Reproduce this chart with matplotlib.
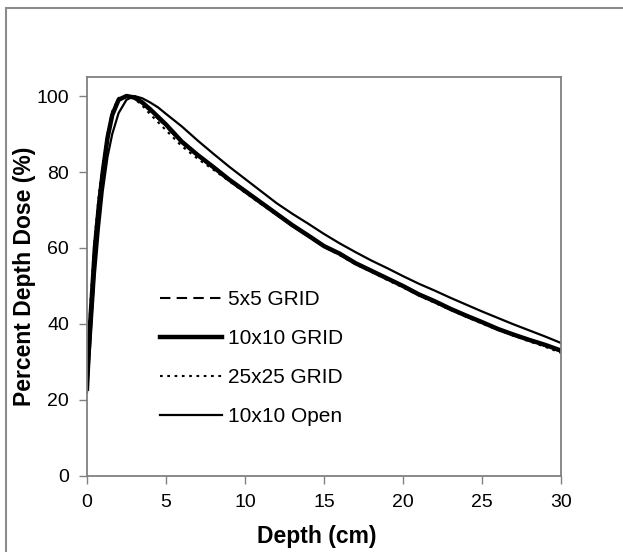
import matplotlib
matplotlib.use('Agg')
import matplotlib.pyplot as plt
from matplotlib.patches import Rectangle

plt.rcParams['font.family'] = ['Liberation Sans', 'DejaVu Sans']

# depth (cm) for grid curves
depth = [0, 0.1, 0.2, 0.35, 0.5, 0.75, 1.0, 1.3, 1.6, 2.0, 2.5, 3.0, 3.5, 4, 5, 6, 7, 8, 9, 10,
         11, 12, 13, 14, 15, 16, 17, 18, 19, 20, 21, 22, 23, 24, 25, 26, 27, 28, 29, 30]
grid5 = [24, 34, 42, 52, 62, 72.5, 81, 89.5, 95.5, 99.2, 100, 99.4, 98, 96, 92, 87.6, 84.2, 81, 77.8, 74.8,
         71.8, 68.8, 65.8, 63, 60.3, 58.2, 55.8, 53.8, 51.8, 49.8, 47.6, 45.7, 43.8, 42, 40.3, 38.6, 37, 35.6, 34.2, 32.7]
grid10 = [23, 32, 40, 50, 60, 71, 80, 89, 95, 99, 100, 99.6, 98.3, 96.5, 92.5, 88, 84.5, 81.3, 78, 75,
          72, 69, 66, 63.3, 60.5, 58.5, 56, 54, 52, 50, 47.8, 46, 44, 42.2, 40.5, 38.7, 37.2, 35.8, 34.5, 33]
grid25 = [25, 35, 44, 54, 63, 74, 82, 90, 96, 99.5, 100, 99.3, 97.5, 95.2, 91, 86.8, 83.5, 80.6, 77.6, 74.6,
          71.6, 68.7, 65.8, 63, 60.3, 58.1, 55.7, 53.7, 51.6, 49.6, 47.5, 45.6, 43.7, 41.9, 40.1, 38.5, 36.9, 35.4, 34, 32.4]

# open field
depth_open = [0, 0.2, 0.5, 0.75, 1.0, 1.3, 1.6, 2.0, 2.5, 3.0, 3.5, 4, 4.5, 5, 6, 7, 8, 9, 10, 11,
              12, 13, 14, 15, 16, 17, 18, 19, 20, 21, 22, 23, 24, 25, 26, 27, 28, 29, 30]
open10 = [22, 34, 53, 65, 75, 84, 90, 95.5, 99, 100, 99.4, 98.3, 97, 95.3, 92, 88.3, 84.8, 81.4, 78.2, 75,
          71.8, 69, 66.4, 63.7, 61.2, 58.9, 56.7, 54.7, 52.6, 50.6, 48.8, 46.9, 45.1, 43.3, 41.6, 39.9, 38.3, 36.7, 35]

fig = plt.figure(figsize=(6.23, 5.52), dpi=100)
ax = fig.add_axes([0.1396, 0.1377, 0.7609, 0.7228])

# outer frame of the original figure
fig.patches.append(Rectangle((6 / 623, -0.1), 1.2, 1 - 8 / 552 + 0.1, transform=fig.transFigure,
                             fill=False, edgecolor='#8c8c8c', linewidth=1.5))

ax.plot(depth, grid5, color='black', lw=1.5, linestyle=(0, (5, 3)), label='5x5 GRID')
ax.plot(depth, grid10, color='black', lw=3.2, label='10x10 GRID')
ax.plot(depth, grid25, color='black', lw=1.5, linestyle=(0, (1.3, 2.2)), label='25x25 GRID')
ax.plot(depth_open, open10, color='black', lw=1.6, label='10x10 Open')

ax.set_xlim(0, 30)
ax.set_ylim(0, 105)
ax.set_xticks([0, 5, 10, 15, 20, 25, 30])
ax.set_yticks([0, 20, 40, 60, 80, 100])
for s in ax.spines.values():
    s.set_color('#808080')
    s.set_linewidth(1.3)
ax.tick_params(direction='out', length=6, width=1, color='#808080', labelsize=14, pad=7)

ax.set_xlabel('Depth (cm)', fontsize=16.5, fontweight='bold')
ax.set_ylabel('Percent Depth Dose (%)', fontsize=16.5, fontweight='bold')
ax.xaxis.set_label_coords(0.485, -0.123)
ax.yaxis.set_label_coords(-0.108, 0.5)

ax.legend(loc='upper left', bbox_to_anchor=(0.154, 0.465), frameon=False, fontsize=15,
          handlelength=3.0, handletextpad=0.25, labelspacing=0.95, borderpad=0, borderaxespad=0)

fig.savefig('out.png', dpi=100)
